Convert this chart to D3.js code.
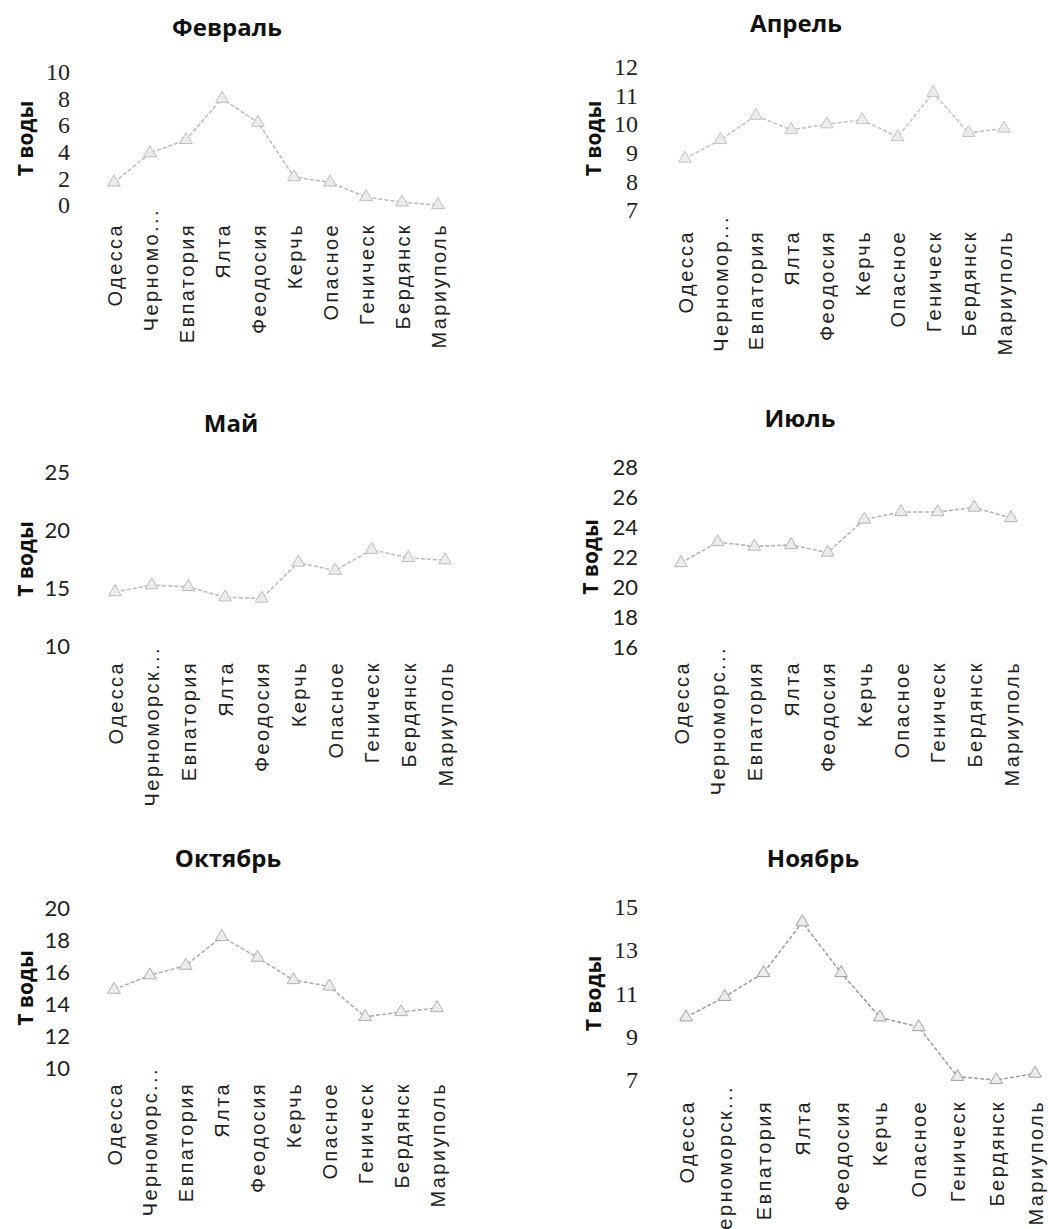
<!DOCTYPE html>
<html>
<head>
<meta charset="utf-8">
<script src="https://cdn.jsdelivr.net/npm/d3@7"></script>
<style>
  body { margin: 0; background: #fff; }
  svg { display: block; }
</style>
</head>
<body>
<svg id="chart" width="1048" height="1229"></svg>
<script>
// stations along the coast
var categories = ["Одесса", "Черноморск", "Евпатория", "Ялта", "Феодосия", "Керчь", "Опасное", "Геническ", "Бердянск", "Мариуполь"];
// second label is cut off differently on every panel
var chernoLabels = ["Черномо...", "Черномор...", "Черноморск...", "Черноморс...", "Черноморс...", "Черноморск..."];

var months = ["Февраль", "Апрель", "Май", "Июль", "Октябрь", "Ноябрь"];

var febValues = [1.7, 3.9, 4.9, 8.0, 6.2, 2.1, 1.7, 0.6, 0.2, 0];
var aprValues = [8.8, 9.45, 10.3, 9.8, 10.0, 10.15, 9.55, 11.1, 9.7, 9.85];
var mayValues = [14.65, 15.25, 15.1, 14.2, 14.1, 17.2, 16.5, 18.3, 17.6, 17.4];
var julValues = [21.6, 23.0, 22.7, 22.8, 22.3, 24.5, 25.0, 25.0, 25.3, 24.6];
var octValues = [14.9, 15.8, 16.4, 18.2, 16.9, 15.5, 15.1, 13.2, 13.5, 13.75];
var novValues = [9.9, 10.85, 11.95, 14.3, 11.95, 9.9, 9.45, 7.15, 7.0, 7.3];

var febTicks = [0, 2, 4, 6, 8, 10];
var aprTicks = [7, 8, 9, 10, 11, 12];
var mayTicks = [10, 15, 20, 25];
var julTicks = [16, 18, 20, 22, 24, 26, 28];
var octTicks = [10, 12, 14, 16, 18, 20];
var novTicks = [7, 9, 11, 13, 15];

var yLabel = "Т воды";

// where each small chart sits on the page
var panels = [
  {values: febValues, ticks: febTicks, x0: 114, x1: 438, yTop: 72, yBot: 205, titleX: 227, titleY: 26, tickX: 70, ytX: 25, labTop: 223, tickFont: "Liberation Serif", tickSize: 24, line: "#bdbdbd"},
  {values: aprValues, ticks: aprTicks, x0: 685, x1: 1004, yTop: 67, yBot: 210, titleX: 796, titleY: 22, tickX: 638, ytX: 593, labTop: 230, tickFont: "Liberation Serif", tickSize: 24, line: "#c4c4c4"},
  {values: mayValues, ticks: mayTicks, x0: 115, x1: 445, yTop: 472, yBot: 646, titleX: 231, titleY: 422, tickX: 70, ytX: 25, labTop: 661, tickFont: "Lato", tickSize: 22, line: "#bdbdbd"},
  {values: julValues, ticks: julTicks, x0: 681, x1: 1011, yTop: 467, yBot: 647, titleX: 800, titleY: 417, tickX: 638, ytX: 590, labTop: 661, tickFont: "Lato", tickSize: 22, line: "#b5b5b5"},
  {values: octValues, ticks: octTicks, x0: 114, x1: 437, yTop: 908, yBot: 1068, titleX: 228, titleY: 857, tickX: 70, ytX: 25, labTop: 1082, tickFont: "Lato", tickSize: 22, line: "#b0b0b0"},
  {values: novValues, ticks: novTicks, x0: 686, x1: 1035, yTop: 907, yBot: 1080, titleX: 813, titleY: 857, tickX: 638, ytX: 593, labTop: 1100, tickFont: "Liberation Serif", tickSize: 24, line: "#a0a0a0"}
];

var svg = d3.select("#chart");

panels.forEach(function(p, i){
    var g = svg.append("g").attr("class", "panel");
    var labels = categories.slice();
    labels[1] = chernoLabels[i];

    var xScale = d3.scalePoint()
        .domain(categories)
        .range([p.x0, p.x1]);

    var yScale = d3.scaleLinear()
        .domain([p.ticks[0], p.ticks[p.ticks.length - 1]])
        .range([p.yBot, p.yTop]);

    // title
    g.append("text")
        .attr("x", p.titleX)
        .attr("y", p.titleY)
        .attr("text-anchor", "middle")
        .attr("dominant-baseline", "central")
        .style("font-family", "Open Sans, sans-serif")
        .style("font-weight", "bold")
        .style("font-size", "24px")
        .style("fill", "#111")
        .text(months[i]);

    // y axis title
    var cy = (p.yTop + p.yBot) / 2;
    g.append("text")
        .attr("transform", "translate(" + p.ytX + "," + cy + ") rotate(-90)")
        .attr("text-anchor", "middle")
        .attr("dominant-baseline", "central")
        .style("font-family", "Open Sans, sans-serif")
        .style("font-weight", "bold")
        .style("font-size", "21px")
        .style("fill", "#111")
        .text(yLabel);

    // y axis, numbers only
    var yAxis = g.append("g")
        .attr("transform", "translate(" + p.tickX + ",0)")
        .call(d3.axisLeft(yScale).tickValues(p.ticks).tickSize(0).tickPadding(0).tickFormat(d3.format("d")));
    yAxis.select(".domain").remove();
    yAxis.selectAll("text")
        .style("font-family", p.tickFont)
        .style("font-size", p.tickSize + "px")
        .style("fill", "#222");

    // x axis, rotated names
    var xAxis = g.append("g")
        .attr("transform", "translate(0," + p.labTop + ")")
        .call(d3.axisBottom(xScale).tickSize(0).tickPadding(0).tickFormat(function(d, j){ return labels[j] }));
    xAxis.select(".domain").remove();
    xAxis.selectAll("text")
        .attr("transform", "rotate(-90)")
        .attr("text-anchor", "end")
        .attr("x", function(d, j){ return j == 1 ? 15 : 0 })
        .attr("y", 0)
        .attr("dy", "0.35em")
        .style("font-family", "Liberation Sans, Arial, sans-serif")
        .style("font-size", "20px")
        .style("letter-spacing", "2.4px")
        .style("fill", "#222");

    var line = d3.line()
        .x(function(d, j){ return xScale(categories[j]) })
        .y(function(d){ return yScale(d) });

    g.append("path")
        .datum(p.values)
        .attr("d", line)
        .attr("fill", "none")
        .attr("stroke", p.line)
        .attr("stroke-width", 1.6)
        .attr("stroke-dasharray", "4,2");

    g.selectAll(".dot")
        .data(p.values)
        .enter()
        .append("path")
        .attr("class", "dot")
        .attr("transform", function(d, j){ return "translate(" + xScale(categories[j]) + "," + yScale(d) + ")" })
        .attr("d", d3.symbol().type(d3.symbolTriangle).size(70))
        .attr("fill", "#ececec")
        .attr("stroke", p.line)
        .attr("stroke-width", 1);
});
</script>
</body>
</html>
